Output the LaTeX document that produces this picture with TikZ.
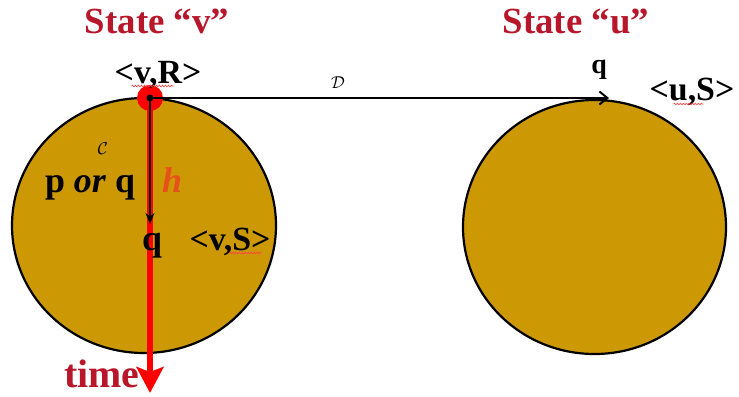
\documentclass[tikz,border=0pt]{standalone}
\usepackage{fontspec}
\setmainfont{Liberation Serif}
\usetikzlibrary{arrows.meta,decorations.pathmorphing}
\definecolor{gold}{HTML}{CC9905}
\definecolor{darkred}{HTML}{B8172B}
\definecolor{hred}{HTML}{E8501A}
\begin{document}
\begin{tikzpicture}[x=1bp,y=-1bp,
  title/.style={font=\fontsize{37}{40}\selectfont\bfseries, text=darkred, inner sep=0pt, anchor=base},
  lbl/.style={font=\fontsize{36}{38}\selectfont\bfseries, text=black, inner sep=0pt, anchor=base},
  tag/.style={font=\fontsize{34}{36}\selectfont\bfseries, text=black, inner sep=0pt, anchor=base},
  squig/.style={red!75, line width=0.6bp, decorate, decoration={snake, amplitude=0.9bp, segment length=3bp}},
  ball/.style={draw=black, line width=2.2bp, fill=gold}]
\useasboundingbox (0,0) rectangle (739,396);
% circles
\draw[ball] (144,225.5) ellipse [x radius=132, y radius=127.5];
\draw[ball] (594.5,227) ellipse [x radius=131.5, y radius=127];
% coordinates
\coordinate (vtop) at (150,98);
\coordinate (vmid) at (150,224);
\coordinate (utop) at (609,98);
\coordinate (tend) at (150,393);
% red time arrow
\draw[red, line width=6bp, -{Stealth[length=26bp, width=27bp, inset=5bp]}] (vtop) -- (tend);
% red dot
\fill[red] (vtop) circle (13bp);
\fill[black] (vtop) circle (3.5bp);
% black arrows
\draw[black, line width=2.2bp, -{Stealth[length=11bp, width=9bp]}] (vtop) -- (vmid);
\draw[black, line width=2bp, -{Straight Barb[length=8bp, width=13bp, line width=2bp]}] (vtop) -- (utop);
% texts
\node[title] (sv) at (157,33) {State “v”};
\node[title] (su) at (576,33) {State “u”};
\node[tag] (vr) at (158,83) {<v,R>};
\node (dd) at (338,83) {\fontsize{19}{20}\selectfont$\mathcal{D}$};
\node (cc) at (103,149) {\fontsize{17}{18}\selectfont$\mathcal{C}$};
\node[lbl] (porq) at (90,192) {p \textit{or} q};
\node[font=\fontsize{36}{38}\selectfont\bfseries\itshape, text=hred, inner sep=0pt, anchor=base] (h) at (172,192) {h};
\node[lbl] (q1) at (152,250) {q};
\node[tag] (vs) at (230,250) {<v,S>};
\node[font=\fontsize{28}{30}\selectfont\bfseries, inner sep=0pt, anchor=base] (q2) at (599,73) {q};
\node[tag] (us) at (692,100) {<u,S>};
\node[font=\fontsize{40}{42}\selectfont\bfseries, text=darkred, inner sep=0pt, anchor=base] (time) at (102,387) {time};
% spell-check squiggles
\draw[squig] (vr.base west) ++(17,3) -- ++(42,0);
\draw[squig] (vs.base west) ++(40,3) -- ++(32,0);
\draw[squig] (us.base west) ++(24,4) -- ++(30,0);
\end{tikzpicture}
\end{document}
